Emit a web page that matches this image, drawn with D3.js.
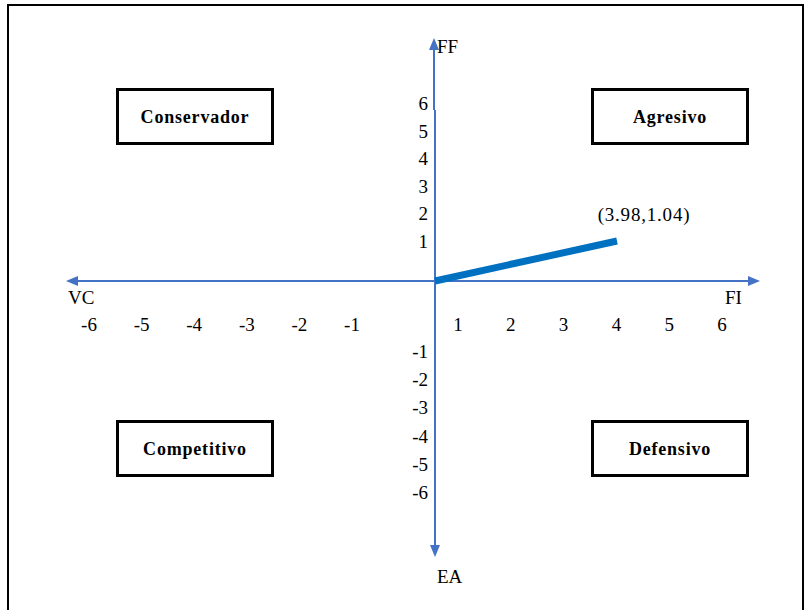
<!DOCTYPE html>
<html><head><meta charset="utf-8">
<script src="https://cdn.jsdelivr.net/npm/d3@7"></script>
<style>body{margin:0;background:#fff}svg{display:block}text{font-family:"Liberation Serif","Tinos","DejaVu Serif",serif}</style>
</head><body>
<svg id="c" width="806" height="610"></svg>
<script>
// ---- data ----
const xTickLabels = [-6,-5,-4,-3,-2,-1,1,2,3,4,5,6];
const yTickLabels = [6,5,4,3,2,1,-1,-2,-3,-4,-5,-6];
const axisNames = ["FF","VC","FI","EA"];
const quadrantNames = ["Conservador","Agresivo","Competitivo","Defensivo"];
const pointX = [0, 3.98];
const pointY = [0, 1.04];
const pointLabel = "(3.98,1.04)";

const svg = d3.select("#c");
const axisColor = "#4472C4";
const fs = 19;

// frame
svg.append("rect").attr("x",8).attr("y",5).attr("width",795).attr("height",620)
  .attr("fill","none").attr("stroke","#000").attr("stroke-width",2);

// scales
const ox = 435, oy = 281;
const x = d3.scaleLinear().domain([0,3.98]).range([ox,617]);
const y = d3.scaleLinear().domain([0,1.04]).range([oy,241]);
const xl = d3.scaleLinear().domain([-6,-1,1,6]).range([89,352,458,722]);
const yl = d3.scaleLinear().domain([-6,-1,1,6]).range([492,351,241,103]);

// axes lines
const g = svg.append("g");
g.append("line").attr("x1",76).attr("x2",750).attr("y1",oy).attr("y2",oy)
  .attr("stroke",axisColor).attr("stroke-width",2);
g.append("line").attr("x1",434).attr("x2",434).attr("y1",48).attr("y2",110)
  .attr("stroke",axisColor).attr("stroke-width",2);
g.append("line").attr("x1",ox).attr("x2",ox).attr("y1",110).attr("y2",547)
  .attr("stroke",axisColor).attr("stroke-width",2);
// arrowheads
const arrows = [
  [[66,oy],[78,oy-5],[78,oy+5]],
  [[760,oy],[748,oy-5],[748,oy+5]],
  [[434,38],[429,50],[439,50]],
  [[ox,557],[430,545],[440,545]]
];
g.selectAll("path.arr").data(arrows).join("path").attr("class","arr")
  .attr("d",d=>"M"+d.map(p=>p.join(",")).join("L")+"Z").attr("fill",axisColor);

// tick labels
svg.append("g").selectAll("text").data(xTickLabels).join("text")
  .attr("x",d=>xl(d)).attr("y",331).attr("text-anchor","middle")
  .attr("font-size",fs).attr("fill","#000")
  .text(d=>d);
svg.append("g").selectAll("text").data(yTickLabels).join("text")
  .attr("x",428).attr("y",d=>yl(d)+7).attr("text-anchor","end")
  .attr("font-size",fs).attr("fill","#000")
  .text(d=>d);

// axis names
const namePos = [[437,53],[68,304],[725,304],[437,583]];
svg.append("g").selectAll("text").data(axisNames).join("text")
  .attr("x",(d,i)=>namePos[i][0]).attr("y",(d,i)=>namePos[i][1])
  .attr("font-size",fs).attr("fill","#000").text(d=>d);

// quadrant boxes
const boxPos = [[116,88],[591,88],[116,420],[591,420]];
const bw = 158, bh = 57;
const bg = svg.append("g").selectAll("g").data(quadrantNames).join("g")
  .attr("transform",(d,i)=>`translate(${boxPos[i][0]},${boxPos[i][1]})`);
bg.append("rect").attr("x",1.5).attr("y",1.5).attr("width",bw-3).attr("height",bh-3)
  .attr("fill","#fff").attr("stroke","#000").attr("stroke-width",3);
bg.append("text").attr("x",bw/2).attr("y",bh/2+6).attr("text-anchor","middle")
  .attr("font-weight","bold").attr("font-size",18).attr("letter-spacing",0.8)
  .text(d=>d);

// vector line
const pts = pointX.map((v,i)=>[v,pointY[i]]);
svg.append("path").datum(pts)
  .attr("d",d3.line().x(d=>x(d[0])).y(d=>y(d[1])))
  .attr("stroke","#0070C0").attr("stroke-width",7).attr("fill","none");
svg.append("text").attr("x",x(pointX[1])+27).attr("y",y(pointY[1])-20)
  .attr("text-anchor","middle").attr("font-size",fs).attr("letter-spacing",0.8)
  .text(pointLabel);
</script>
</body></html>
